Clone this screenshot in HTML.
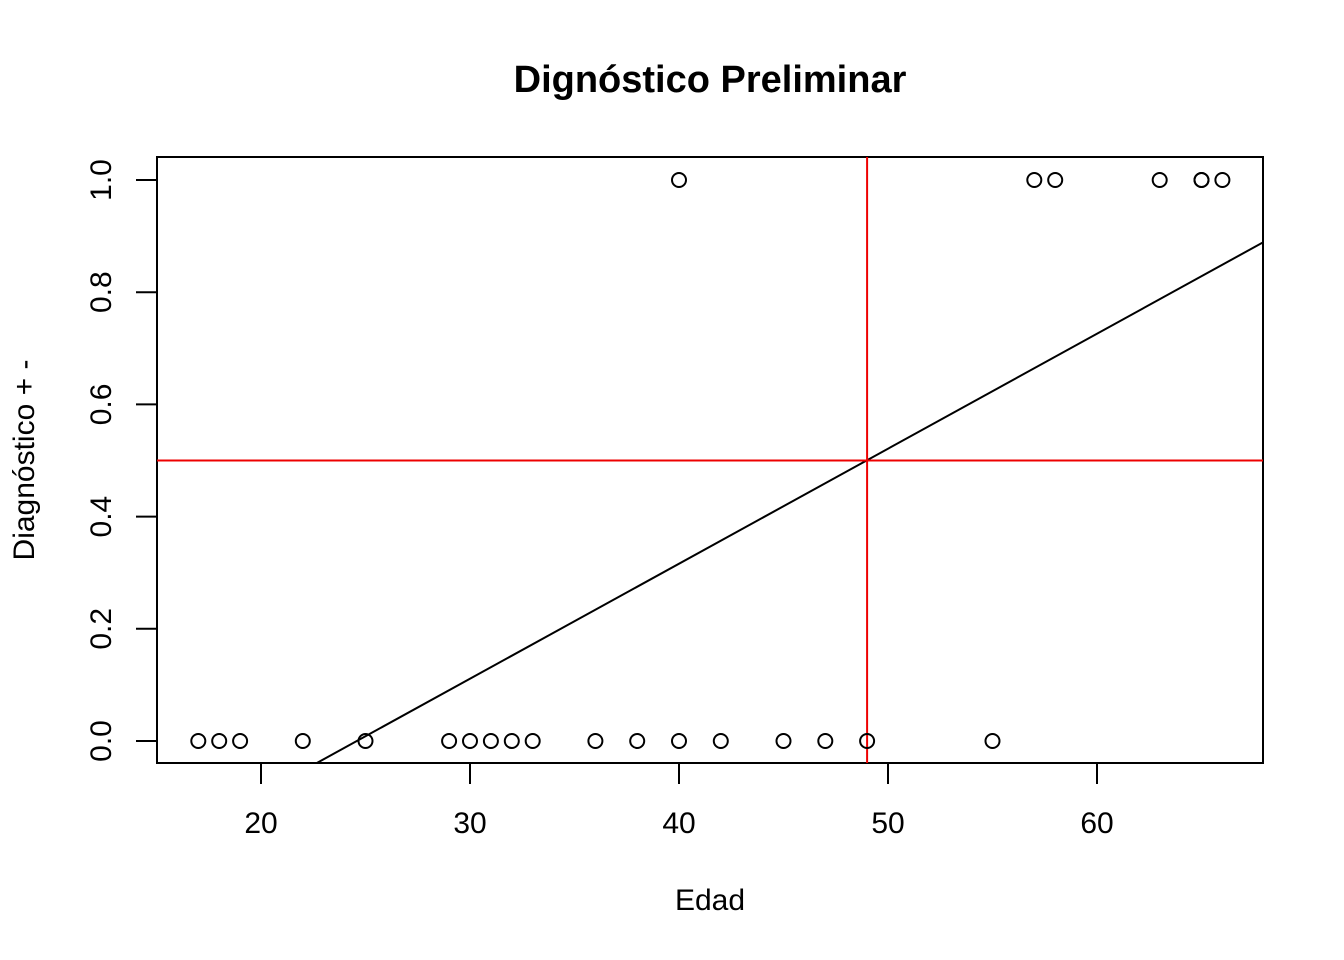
<!DOCTYPE html>
<html><head><meta charset="utf-8"><style>
html,body{margin:0;padding:0;background:#fff;}
svg{display:block;font-family:"Liberation Sans",Arial,sans-serif;}
</style></head><body>
<svg id="chart" width="1344" height="960" xmlns="http://www.w3.org/2000/svg">
<defs><clipPath id="clip"><rect x="157" y="157" width="1106" height="606"/></clipPath></defs>
<text x="710" y="92" text-anchor="middle" font-size="38" font-weight="bold">Dignóstico Preliminar</text>
<text x="710" y="910" text-anchor="middle" font-size="30">Edad</text>
<text transform="translate(34,460) rotate(-90)" text-anchor="middle" font-size="30">Diagnóstico + -</text>
<rect x="157" y="157" width="1106" height="606" fill="none" stroke="#000" stroke-width="2"/>
<g id="xaxis"></g>
<g id="yaxis"></g>
<g id="marks" clip-path="url(#clip)"></g>
</svg>
<script>
const xTicks=[20,30,40,50,60];
const yTicks=[0.0,0.2,0.4,0.6,0.8,1.0];
const edad=[17,18,19,22,25,29,30,31,32,33,36,38,40,42,45,47,49,55,40,57,58,63,65,65,66];
const diag=[0,0,0,0,0,0,0,0,0,0,0,0,0,0,0,0,0,0,1,1,1,1,1,1,1];
const fitCoef=[-0.504,0.0205];
const refLines=[49,0.5];
const NS="http://www.w3.org/2000/svg";
const X=v=>261+(v-20)*20.9;
const Y=v=>741-v*561;
function mk(t,a,p){const e=document.createElementNS(NS,t);for(const k in a)e.setAttribute(k,a[k]);p.appendChild(e);return e;}
const xa=document.getElementById('xaxis'),ya=document.getElementById('yaxis'),m=document.getElementById('marks');
xTicks.forEach(t=>{
  const l=mk('line',{x1:X(t),x2:X(t),y1:763,y2:784,stroke:'#000','stroke-width':2},xa);
  
  
  const tx=mk('text',{x:X(t),y:833,'text-anchor':'middle','font-size':30},xa);tx.textContent=t;
  
  
});
yTicks.forEach(t=>{
  const l=mk('line',{x1:136,x2:157,y1:Y(t),y2:Y(t),stroke:'#000','stroke-width':2},ya);
  
  
  const tx=mk('text',{transform:`translate(111,${Y(t)}) rotate(-90)`,'text-anchor':'middle','font-size':30},ya);tx.textContent=t.toFixed(1);
  
  
});
const x0=10,x1=75;
const fl=mk('line',{x1:X(x0),y1:Y(fitCoef[0]+fitCoef[1]*x0),x2:X(x1),y2:Y(fitCoef[0]+fitCoef[1]*x1),stroke:'#000','stroke-width':2},m);


const vl=mk('line',{x1:X(refLines[0]),x2:X(refLines[0]),y1:150,y2:770,stroke:'#e00','stroke-width':2},m);


const hl=mk('line',{x1:150,x2:1270,y1:Y(refLines[1]),y2:Y(refLines[1]),stroke:'#e00','stroke-width':2},m);


edad.forEach((e,i)=>{
  const c=mk('circle',{cx:X(e),cy:Y(diag[i]),r:7,fill:'none',stroke:'#000','stroke-width':2},m);
  
  
});
</script>
</body></html>
